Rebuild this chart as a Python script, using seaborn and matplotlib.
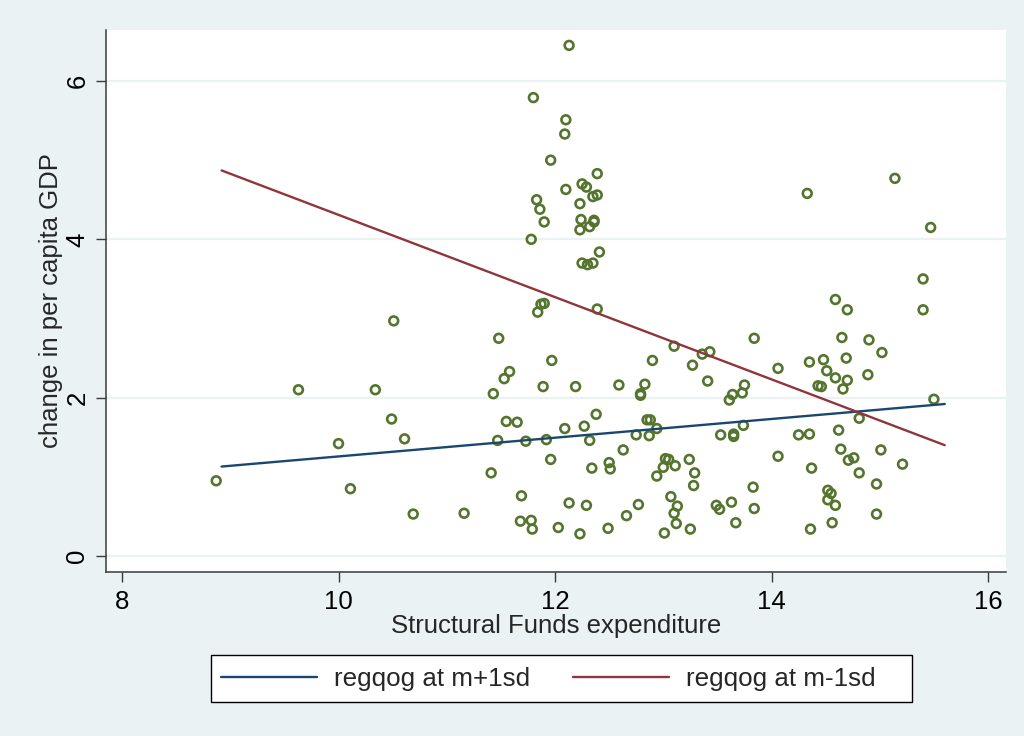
import numpy as np
import pandas as pd
import matplotlib
matplotlib.use("Agg")
import matplotlib.pyplot as plt
from matplotlib.patches import Rectangle
import seaborn as sns

# ---- data ----
sf_exp = [8.87, 9.63, 10.00, 10.11, 10.34, 10.49, 10.51, 10.61, 10.69, 11.16,
          11.41, 11.43, 11.48, 11.47, 11.53, 11.58, 11.55, 11.65, 11.68, 11.69,
          11.73, 11.78, 11.78, 11.79, 11.80, 11.83, 11.86, 11.90, 11.87, 11.90,
          11.84, 11.89, 11.92, 11.96, 11.97, 11.96, 12.03, 12.09, 12.10, 12.09,
          12.10, 12.13, 12.13, 12.19, 12.23, 12.23, 12.24, 12.23, 12.25, 12.25,
          12.29, 12.27, 12.29, 12.30, 12.32, 12.35, 12.32, 12.35, 12.34, 12.36,
          12.36, 12.39, 12.39, 12.38, 12.39, 12.41, 12.49, 12.50, 12.51, 12.59,
          12.63, 12.66, 12.75, 12.79, 12.79, 12.77, 12.83, 12.85, 12.88, 12.87,
          12.90, 12.94, 12.94, 13.00, 13.01, 13.02, 13.05, 13.07, 13.10, 13.10,
          13.11, 13.13, 13.12, 13.24, 13.25, 13.27, 13.29, 13.28, 13.36, 13.43,
          13.41, 13.49, 13.52, 13.53, 13.61, 13.63, 13.64, 13.65, 13.65, 13.67,
          13.73, 13.74, 13.75, 13.83, 13.84, 13.84, 14.06, 14.06, 14.25, 14.33,
          14.35, 14.35, 14.37, 14.36, 14.43, 14.46, 14.48, 14.51, 14.52, 14.52,
          14.55, 14.56, 14.59, 14.59, 14.59, 14.62, 14.64, 14.65, 14.66, 14.70,
          14.69, 14.70, 14.71, 14.76, 14.81, 14.81, 14.89, 14.90, 14.97, 14.97,
          15.01, 15.02, 15.14, 15.21, 15.40, 15.40, 15.47, 15.50]
gdp_change = [0.95, 2.10, 1.42, 0.85, 2.10, 1.73, 2.97, 1.48, 0.53, 0.54,
              1.05, 2.05, 2.75, 1.46, 2.24, 2.33, 1.70, 1.69, 0.44, 0.76,
              1.45, 0.45, 4.00, 0.34, 5.79, 4.50, 4.38, 4.22, 3.18, 3.19,
              3.08, 2.14, 1.47, 5.00, 2.47, 1.22, 0.36, 1.61, 5.51, 5.33,
              4.63, 6.45, 0.67, 2.14, 0.28, 4.45, 4.25, 4.12, 4.70, 3.70,
              4.66, 1.64, 0.64, 3.68, 4.16, 4.54, 1.46, 3.70, 1.11, 4.24,
              4.22, 4.56, 3.12, 1.79, 4.83, 3.84, 0.35, 1.18, 1.10, 2.16,
              1.34, 0.51, 1.53, 2.05, 2.03, 0.65, 2.17, 1.72, 1.72, 1.52,
              2.47, 1.61, 1.01, 1.12, 0.29, 1.23, 1.22, 0.75, 2.65, 0.54,
              1.14, 0.63, 0.41, 1.22, 0.34, 2.41, 1.05, 0.89, 2.55, 2.58,
              2.21, 0.64, 0.59, 1.53, 1.97, 0.68, 2.04, 1.54, 1.51, 0.42,
              2.06, 1.65, 2.16, 0.87, 2.75, 0.60, 2.37, 1.26, 1.53, 4.58,
              2.45, 1.54, 1.11, 0.34, 2.15, 2.14, 2.48, 2.34, 0.83, 0.71,
              0.79, 0.42, 3.24, 2.25, 0.64, 1.59, 1.35, 2.76, 2.11, 3.11,
              2.50, 2.22, 1.21, 1.24, 1.05, 1.74, 2.29, 2.73, 0.91, 0.53,
              1.34, 2.57, 4.77, 1.16, 3.11, 3.50, 4.15, 1.98]

line_labels = ["regqog at m+1sd", "regqog at m-1sd"]
line_x = [8.92, 15.60]
line_hi = [1.13, 1.92]   # regqog at m+1sd
line_lo = [4.87, 1.40]   # regqog at m-1sd

x_ticks = [8, 10, 12, 14, 16]
y_ticks = [0, 2, 4, 6]

# ---- styling ----
BG = "#EAF2F3"
GREEN = "#55752f"
NAVY = "#1a476f"
MAROON = "#90353b"
AXC = "#3a3a3a"

sns.set_theme(style="white")
plt.rcParams["font.family"] = ["Liberation Sans", "DejaVu Sans"]

W, H = 1024, 736
fig = plt.figure(figsize=(W / 100, H / 100), dpi=100, facecolor=BG)
ax = fig.add_axes([106 / W, 1 - 572 / H, 900 / W, 542 / H])
ax.set_facecolor("white")

scatter_df = pd.DataFrame({"x": sf_exp, "y": gdp_change})
sns.scatterplot(data=scatter_df, x="x", y="y", ax=ax, marker="o", s=40,
                facecolor="none", edgecolor=GREEN, linewidth=1.9, legend=False,
                zorder=3)

lines_df = pd.DataFrame({
    "x": line_x + line_x,
    "y": line_hi + line_lo,
    "series": [line_labels[0]] * 2 + [line_labels[1]] * 2,
})
sns.lineplot(data=lines_df, x="x", y="y", hue="series",
             palette={line_labels[0]: NAVY, line_labels[1]: MAROON},
             linewidth=1.7, ax=ax, legend=False, zorder=4)

ax.set_xlim(7.852, 16.166)
ax.set_ylim(-0.202, 6.644)
ax.set_xticks(x_ticks)
ax.set_yticks(y_ticks)
ax.set_xticklabels([str(t) for t in x_ticks], fontsize=18.5)
ax.set_yticklabels([str(t) for t in y_ticks], fontsize=18.5, rotation=90,
                   va="center")
ax.yaxis.grid(True, color=BG, linewidth=1.6, zorder=0)
ax.xaxis.grid(False)
ax.set_axisbelow(True)

for side in ["top", "right"]:
    ax.spines[side].set_visible(False)
for side in ["left", "bottom"]:
    ax.spines[side].set_color(AXC)
    ax.spines[side].set_linewidth(1.1)
ax.tick_params(axis="both", which="major", direction="out", length=7,
               width=1.0, color=AXC, labelcolor="black", left=True, bottom=True)
ax.tick_params(axis="x", pad=6)
ax.tick_params(axis="y", pad=5)

ax.set_xlabel("Structural Funds expenditure", fontsize=18.5, labelpad=0)
ax.set_ylabel("change in per capita GDP", fontsize=18.5, labelpad=2)

# legend frame (drawn as a figure rectangle) and legend entries
fig.patches.append(Rectangle((211 / W, 1 - 702 / H), 701 / W, 47 / H,
                             transform=fig.transFigure, facecolor="white",
                             edgecolor="black", linewidth=1.0, zorder=1))
handles = [plt.Line2D([], [], color=NAVY, linewidth=1.7),
           plt.Line2D([], [], color=MAROON, linewidth=1.7)]
leg = fig.legend(handles, line_labels, loc="center left",
                 bbox_to_anchor=(213 / W, 1 - 679 / H), ncol=2,
                 fontsize=18.7, frameon=False,
                 handlelength=3.7, handletextpad=0.65, columnspacing=1.65,
                 borderpad=0.3, borderaxespad=0)
leg.set_zorder(2)

fig.savefig("out.png", dpi=100, facecolor=BG)
